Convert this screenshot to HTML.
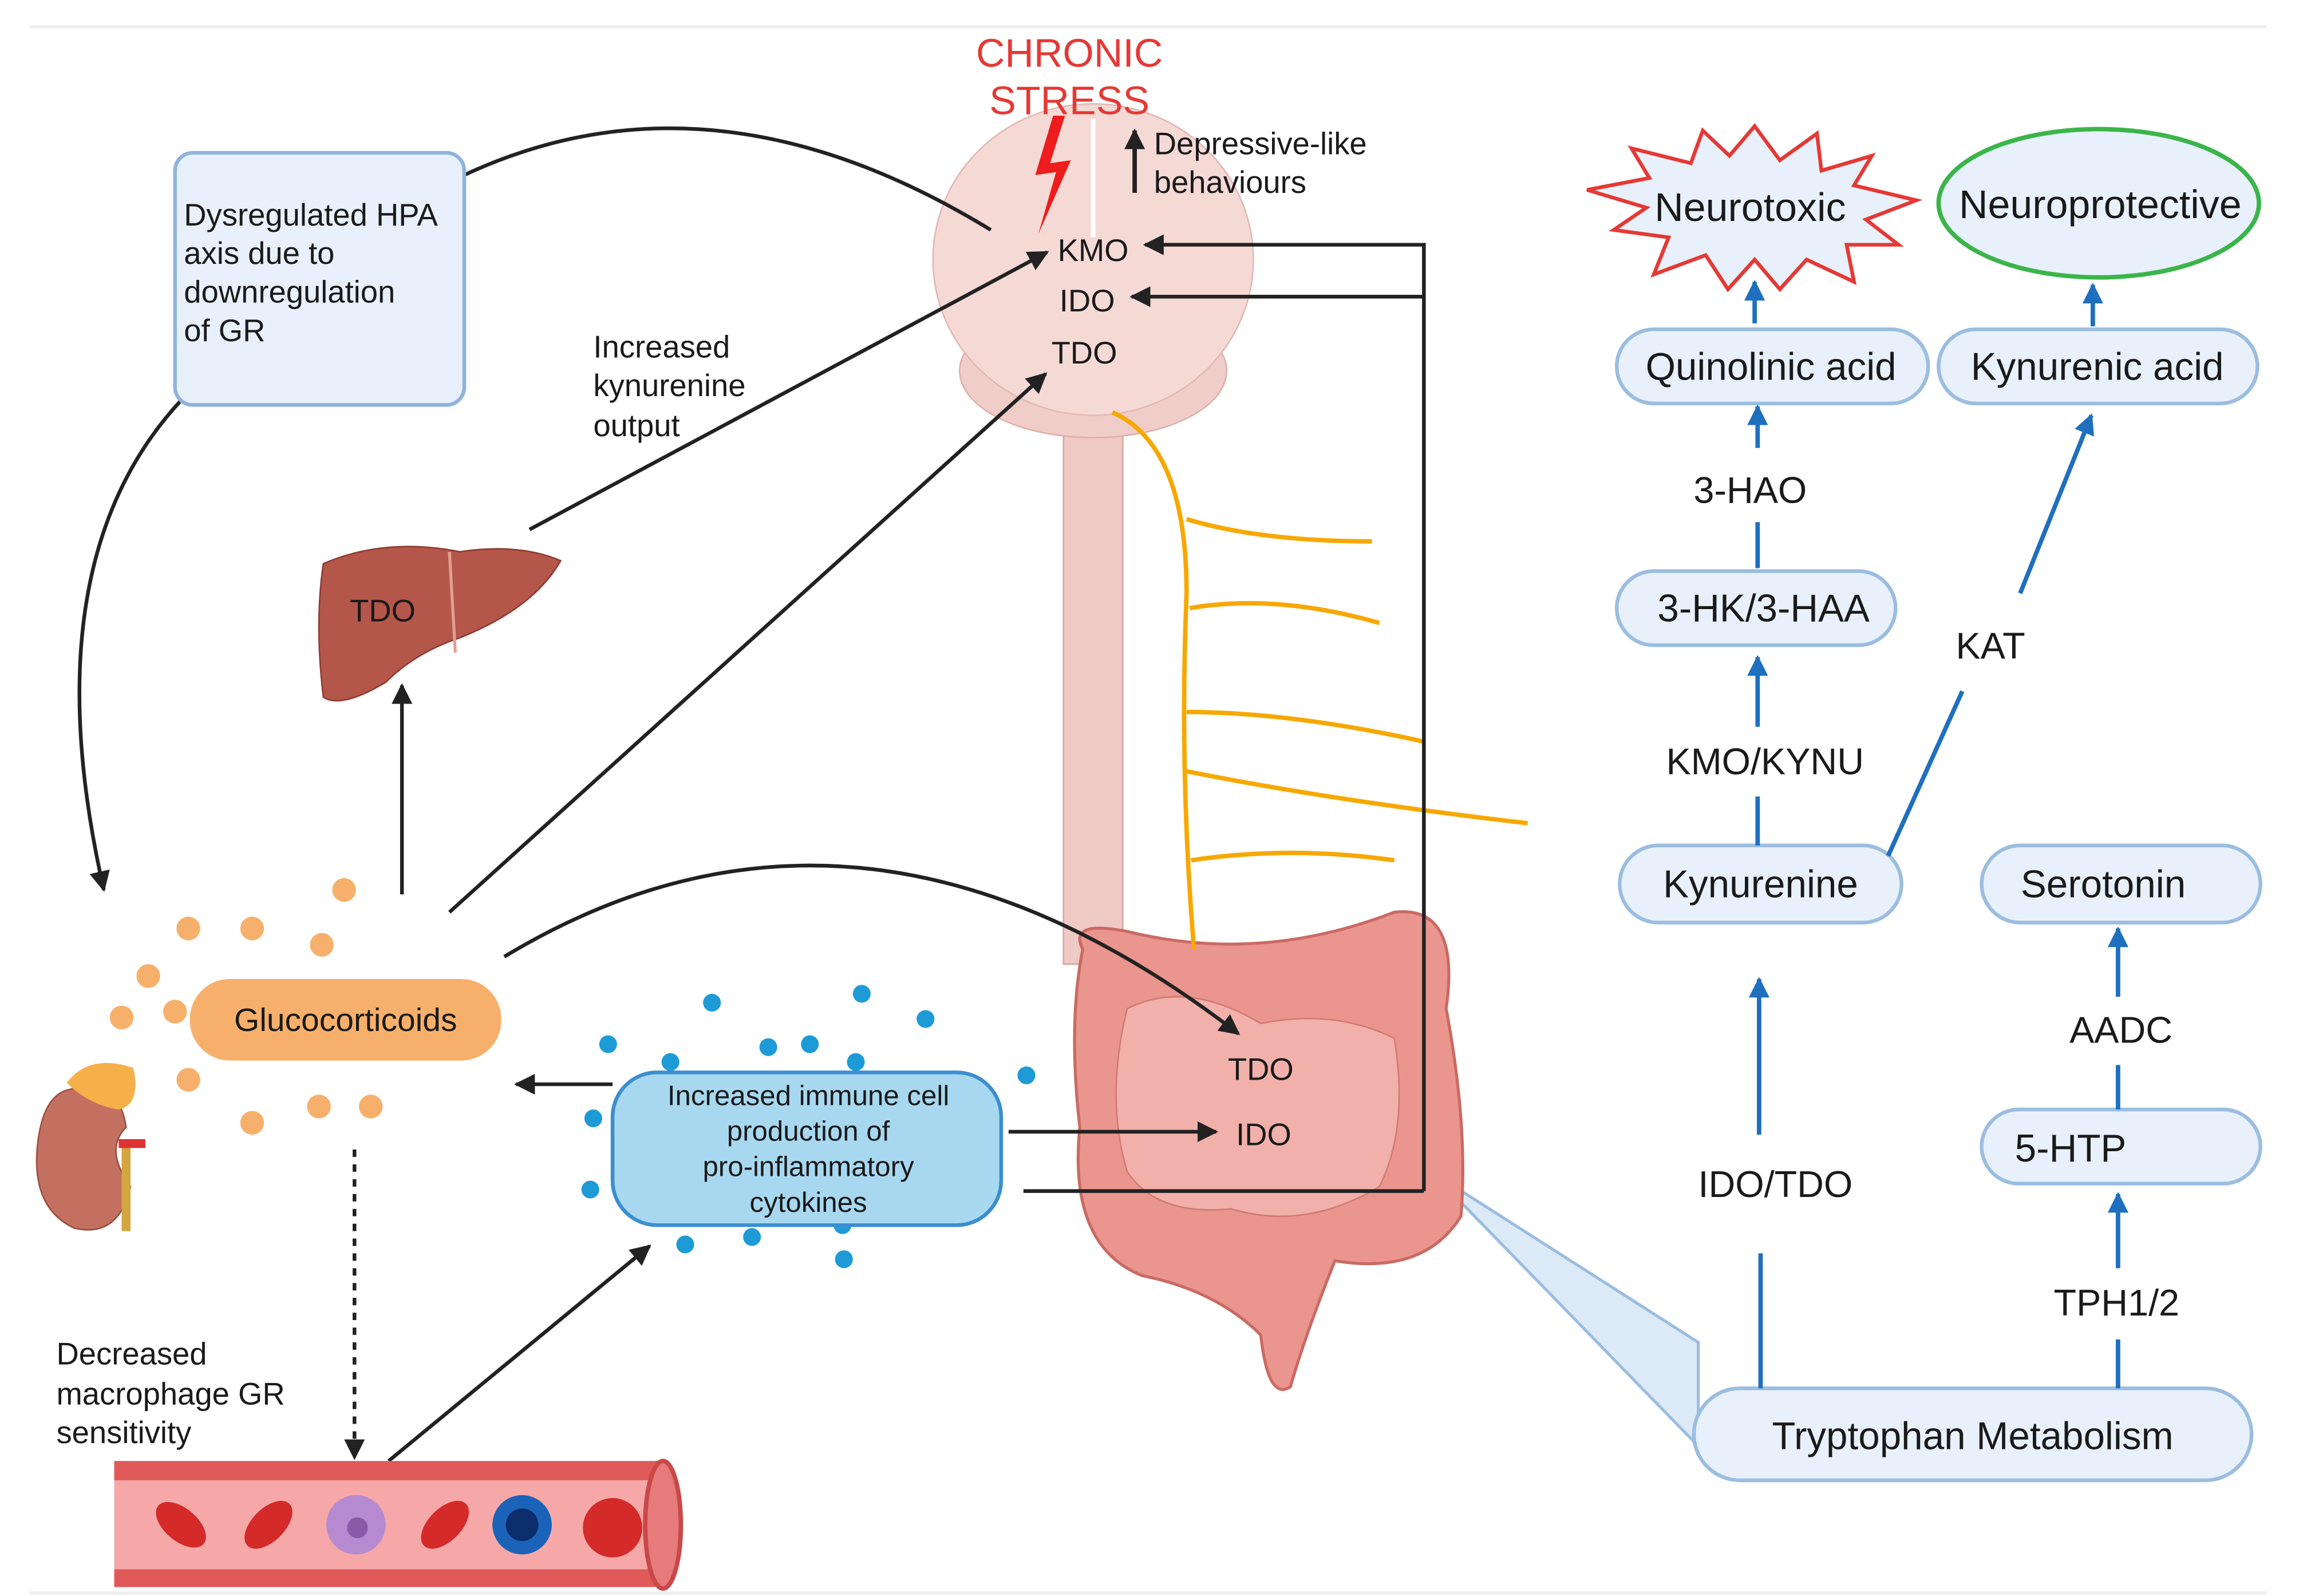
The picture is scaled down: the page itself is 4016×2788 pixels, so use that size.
<!DOCTYPE html>
<html><head><meta charset="utf-8"><style>
html,body{margin:0;padding:0;background:#fff;}
svg{display:block;}
text{font-family:"Liberation Sans",Arial,sans-serif;fill:#1a1a1a;}
</style></head><body>
<svg width="4016" height="2788" viewBox="0 0 1550 1076" xmlns="http://www.w3.org/2000/svg">
<defs>
<marker id="ak" markerWidth="8" markerHeight="8" refX="7" refY="4" orient="auto" markerUnits="userSpaceOnUse"><path d="M0,0 L8,4 L0,8 Z" fill="#222" transform="scale(1.6) translate(-3,-1.5)"/></marker>
<marker id="a" viewBox="0 0 10 10" refX="9" refY="5" markerWidth="14" markerHeight="14" orient="auto" markerUnits="userSpaceOnUse"><path d="M0,0 L10,5 L0,10 Z" fill="#222"/></marker>
<marker id="b" viewBox="0 0 10 10" refX="9" refY="5" markerWidth="14" markerHeight="14" orient="auto" markerUnits="userSpaceOnUse"><path d="M0,0 L10,5 L0,10 Z" fill="#1f6fbf"/></marker>
</defs>
<rect width="1550" height="1076" fill="#fff"/>
<line x1="20" y1="18" x2="1528" y2="18" stroke="#eee" stroke-width="2"/>
<line x1="20" y1="1074" x2="1528" y2="1074" stroke="#eee" stroke-width="2"/>

<!-- callout -->
<polygon points="965,790 1145,905 1145,975" fill="#dceaf8" stroke="#9bbde0" stroke-width="2"/>

<!-- spinal cord -->
<rect x="717" y="270" width="40" height="380" fill="#efc9c4" stroke="#d9a6a0"/>
<!-- brain -->
<ellipse cx="737" cy="250" rx="90" ry="45" fill="#f0cdc8" stroke="#deb0aa"/>
<ellipse cx="737" cy="175" rx="108" ry="105" fill="#f5d9d5" stroke="#e2b8b2"/>
<line x1="737" y1="80" x2="737" y2="160" stroke="#fff" stroke-width="3"/>
<!-- intestine -->
<path d="M730,640 Q720,620 760,628 Q850,650 940,615 Q985,610 975,680 Q990,760 985,820 Q960,860 900,850 Q880,900 870,935 Q855,945 850,900 Q820,870 770,860 Q720,840 728,760 Q720,690 730,640 Z" fill="#ea958e" stroke="#c96a63" stroke-width="2"/>
<path d="M760,680 Q800,660 850,690 Q900,680 940,700 Q950,760 930,800 Q880,830 830,815 Q780,820 760,790 Q745,740 760,680Z" fill="#f2b0aa" stroke="#d07a73"/>
<!-- nerves -->
<g stroke="#f7a800" stroke-width="3" fill="none">
<path d="M750,278 Q800,300 800,400 Q795,520 805,640"/>
<path d="M800,350 Q850,365 925,365"/>
<path d="M802,410 Q860,400 930,420"/>
<path d="M800,480 Q870,480 960,500"/>
<path d="M800,520 Q900,540 1030,555"/>
<path d="M803,580 Q870,570 940,580"/>
</g>

<!-- lightning -->
<path d="M710,78 L698,118 L712,116 L700,158 L722,108 L708,110 L718,78 Z" fill="#ee1c1c"/>
<text x="721" y="45" font-size="27" text-anchor="middle" style="fill:#e53935">CHRONIC</text>
<text x="721" y="77" font-size="27" text-anchor="middle" style="fill:#e53935">STRESS</text>
<line x1="765" y1="130" x2="765" y2="88" stroke="#222" stroke-width="3" marker-end="url(#a)"/>
<text x="778" y="104" font-size="21">Depressive-like</text>
<text x="778" y="130" font-size="21">behaviours</text>
<text x="737" y="176" font-size="21" text-anchor="middle">KMO</text>
<text x="733" y="210" font-size="21" text-anchor="middle">IDO</text>
<text x="731" y="245" font-size="21" text-anchor="middle">TDO</text>

<g stroke="#222" stroke-width="2.5" fill="none">
<polyline points="960,803 960,165 772,165" marker-end="url(#a)"/>
<line x1="960" y1="200" x2="763" y2="200" marker-end="url(#a)"/>
<line x1="690" y1="803" x2="960" y2="803"/>
<path d="M313,118 Q480,40 668,155"/>
<path d="M122,270 Q20,380 70,600" marker-end="url(#a)"/>
<line x1="357" y1="357" x2="706" y2="170" marker-end="url(#a)"/>
<line x1="271" y1="603" x2="271" y2="462" marker-end="url(#a)"/>
<line x1="303" y1="615" x2="705" y2="252" marker-end="url(#a)"/>
<path d="M340,645 Q580,500 835,697" marker-end="url(#a)"/>
<line x1="413" y1="731" x2="348" y2="731" marker-end="url(#a)"/>
<line x1="680" y1="763" x2="820" y2="763" marker-end="url(#a)"/>
<line x1="239" y1="775" x2="239" y2="983" stroke-dasharray="5,5" marker-end="url(#a)"/>
<line x1="262" y1="985" x2="438" y2="840" marker-end="url(#a)"/>
</g>

<!-- HPA box -->
<rect x="118" y="103" width="195" height="170" rx="12" fill="#e8f1fb" stroke="#8fb3dd" stroke-width="2.5"/>
<text font-size="21"><tspan x="124" y="152">Dysregulated HPA</tspan><tspan x="124" y="178">axis due to</tspan><tspan x="124" y="204">downregulation</tspan><tspan x="124" y="230">of GR</tspan></text>
<text font-size="21"><tspan x="400" y="241">Increased</tspan><tspan x="400" y="267">kynurenine</tspan><tspan x="400" y="294">output</tspan></text>

<!-- liver -->
<path d="M218,380 Q260,362 310,372 Q350,366 378,378 Q360,410 310,430 Q280,440 260,460 Q230,478 218,470 Q212,420 218,380Z" fill="#b5564a" stroke="#8e3b31"/>
<line x1="303" y1="372" x2="307" y2="440" stroke="#e0a090" stroke-width="2"/>
<text x="258" y="419" font-size="21" text-anchor="middle">TDO</text>

<!-- glucocorticoids -->
<g fill="#f7b06b">
<circle cx="232" cy="600" r="8"/><circle cx="127" cy="626" r="8"/><circle cx="170" cy="626" r="8"/><circle cx="217" cy="637" r="8"/><circle cx="100" cy="658" r="8"/><circle cx="82" cy="686" r="8"/><circle cx="118" cy="682" r="8"/><circle cx="127" cy="728" r="8"/><circle cx="170" cy="757" r="8"/><circle cx="215" cy="746" r="8"/><circle cx="250" cy="746" r="8"/>
</g>
<rect x="128" y="660" width="210" height="55" rx="27" fill="#f7b06b"/>
<text x="233" y="695" font-size="22" text-anchor="middle">Glucocorticoids</text>
<!-- kidney -->
<path d="M45,735 Q80,725 85,760 Q70,775 88,800 Q80,835 50,828 Q22,815 25,775 Q28,740 45,735Z" fill="#c47060" stroke="#9a4e40"/>
<path d="M45,730 Q60,710 90,720 Q95,745 80,748 Q60,745 45,730Z" fill="#f6b04a"/>
<rect x="82" y="770" width="6" height="60" fill="#d4a640"/>
<rect x="80" y="768" width="18" height="6" fill="#d33"/>

<!-- blue dots -->
<g fill="#1e9bd7">
<circle cx="480" cy="676" r="6"/><circle cx="581" cy="670" r="6"/><circle cx="624" cy="687" r="6"/><circle cx="410" cy="704" r="6"/><circle cx="452" cy="716" r="6"/><circle cx="518" cy="706" r="6"/><circle cx="546" cy="704" r="6"/><circle cx="577" cy="716" r="6"/><circle cx="692" cy="725" r="6"/><circle cx="400" cy="754" r="6"/><circle cx="398" cy="802" r="6"/><circle cx="462" cy="839" r="6"/><circle cx="507" cy="834" r="6"/><circle cx="568" cy="826" r="6"/><circle cx="569" cy="849" r="6"/>
</g>
<rect x="413" y="723" width="262" height="103" rx="30" fill="#a8d8f0" stroke="#3b8ed0" stroke-width="2.5"/>
<text font-size="19" text-anchor="middle"><tspan x="545" y="745">Increased immune cell</tspan><tspan x="545" y="769">production of</tspan><tspan x="545" y="793">pro-inflammatory</tspan><tspan x="545" y="817">cytokines</tspan></text>
<text x="850" y="728" font-size="21" text-anchor="middle">TDO</text>
<text x="852" y="772" font-size="21" text-anchor="middle">IDO</text>
<text font-size="21"><tspan x="38" y="920">Decreased</tspan><tspan x="38" y="947">macrophage GR</tspan><tspan x="38" y="973">sensitivity</tspan></text>

<!-- blood vessel -->
<rect x="77" y="985" width="370" height="85" fill="#e05a5a"/>
<rect x="77" y="998" width="370" height="60" fill="#f6a8a8"/>
<ellipse cx="447" cy="1028" rx="12" ry="43" fill="#e77a7a" stroke="#c94848" stroke-width="3"/>
<g fill="#d42a2a"><ellipse cx="122" cy="1028" rx="20" ry="11" transform="rotate(40 122 1028)"/><ellipse cx="181" cy="1028" rx="20" ry="11" transform="rotate(-45 181 1028)"/><ellipse cx="300" cy="1028" rx="20" ry="11" transform="rotate(-45 300 1028)"/><circle cx="413" cy="1030" r="20"/></g>
<circle cx="240" cy="1028" r="20" fill="#b58ad0"/><circle cx="241" cy="1030" r="7" fill="#8a5aa8"/>
<circle cx="352" cy="1028" r="20" fill="#1b63b8"/><circle cx="352" cy="1028" r="11" fill="#0b2d6b"/>

<!-- right panel -->
<path d="M1183,85 L1200,108 L1225,90 L1228,115 L1262,105 L1250,125 L1292,135 L1258,148 L1280,165 L1245,165 L1250,190 L1218,175 L1200,195 L1183,175 L1165,195 L1150,172 L1115,185 L1125,160 L1088,155 L1110,140 L1070,128 L1112,120 L1100,100 L1140,110 L1148,88 L1166,105 Z" fill="#e8f1fb" stroke="#e53935" stroke-width="2.5"/>
<text x="1180" y="149" font-size="27" text-anchor="middle">Neurotoxic</text>
<ellipse cx="1415" cy="137" rx="108" ry="50" fill="#e8f1fb" stroke="#3bb54a" stroke-width="3"/>
<text x="1416" y="147" font-size="27" text-anchor="middle">Neuroprotective</text>
<g fill="#e8f1fb" stroke="#9bbde0" stroke-width="2.5">
<rect x="1090" y="222" width="210" height="50" rx="25"/>
<rect x="1307" y="222" width="215" height="50" rx="25"/>
<rect x="1090" y="385" width="188" height="50" rx="25"/>
<rect x="1092" y="570" width="190" height="52" rx="26"/>
<rect x="1336" y="570" width="188" height="52" rx="26"/>
<rect x="1336" y="748" width="188" height="50" rx="25"/>
<rect x="1142" y="936" width="376" height="62" rx="31"/>
</g>
<g font-size="26" text-anchor="middle">
<text x="1194" y="256">Quinolinic acid</text>
<text x="1414" y="256">Kynurenic acid</text>
<text x="1189" y="419">3-HK/3-HAA</text>
<text x="1187" y="605">Kynurenine</text>
<text x="1418" y="605">Serotonin</text>
<text x="1396" y="783">5-HTP</text>
<text x="1330" y="977">Tryptophan Metabolism</text>
</g>
<g font-size="25" text-anchor="middle">
<text x="1180" y="339">3-HAO</text>
<text x="1190" y="522">KMO/KYNU</text>
<text x="1342" y="444">KAT</text>
<text x="1197" y="807">IDO/TDO</text>
<text x="1430" y="703">AADC</text>
<text x="1427" y="887">TPH1/2</text>
</g>
<g stroke="#1f6fbf" stroke-width="3" fill="none">
<line x1="1183" y1="218" x2="1183" y2="190" marker-end="url(#b)"/>
<line x1="1411" y1="220" x2="1411" y2="192" marker-end="url(#b)"/>
<line x1="1185" y1="302" x2="1185" y2="274" marker-end="url(#b)"/>
<line x1="1185" y1="383" x2="1185" y2="352"/>
<line x1="1185" y1="490" x2="1185" y2="443" marker-end="url(#b)"/>
<line x1="1185" y1="570" x2="1185" y2="537"/>
<line x1="1273" y1="577" x2="1323" y2="466"/>
<line x1="1362" y1="400" x2="1410" y2="280" marker-end="url(#b)"/>
<line x1="1186" y1="765" x2="1186" y2="660" marker-end="url(#b)"/>
<line x1="1187" y1="936" x2="1187" y2="845"/>
<line x1="1428" y1="936" x2="1428" y2="903"/>
<line x1="1428" y1="855" x2="1428" y2="805" marker-end="url(#b)"/>
<line x1="1428" y1="748" x2="1428" y2="718"/>
<line x1="1428" y1="672" x2="1428" y2="626" marker-end="url(#b)"/>
</g>
</svg>
</body></html>
